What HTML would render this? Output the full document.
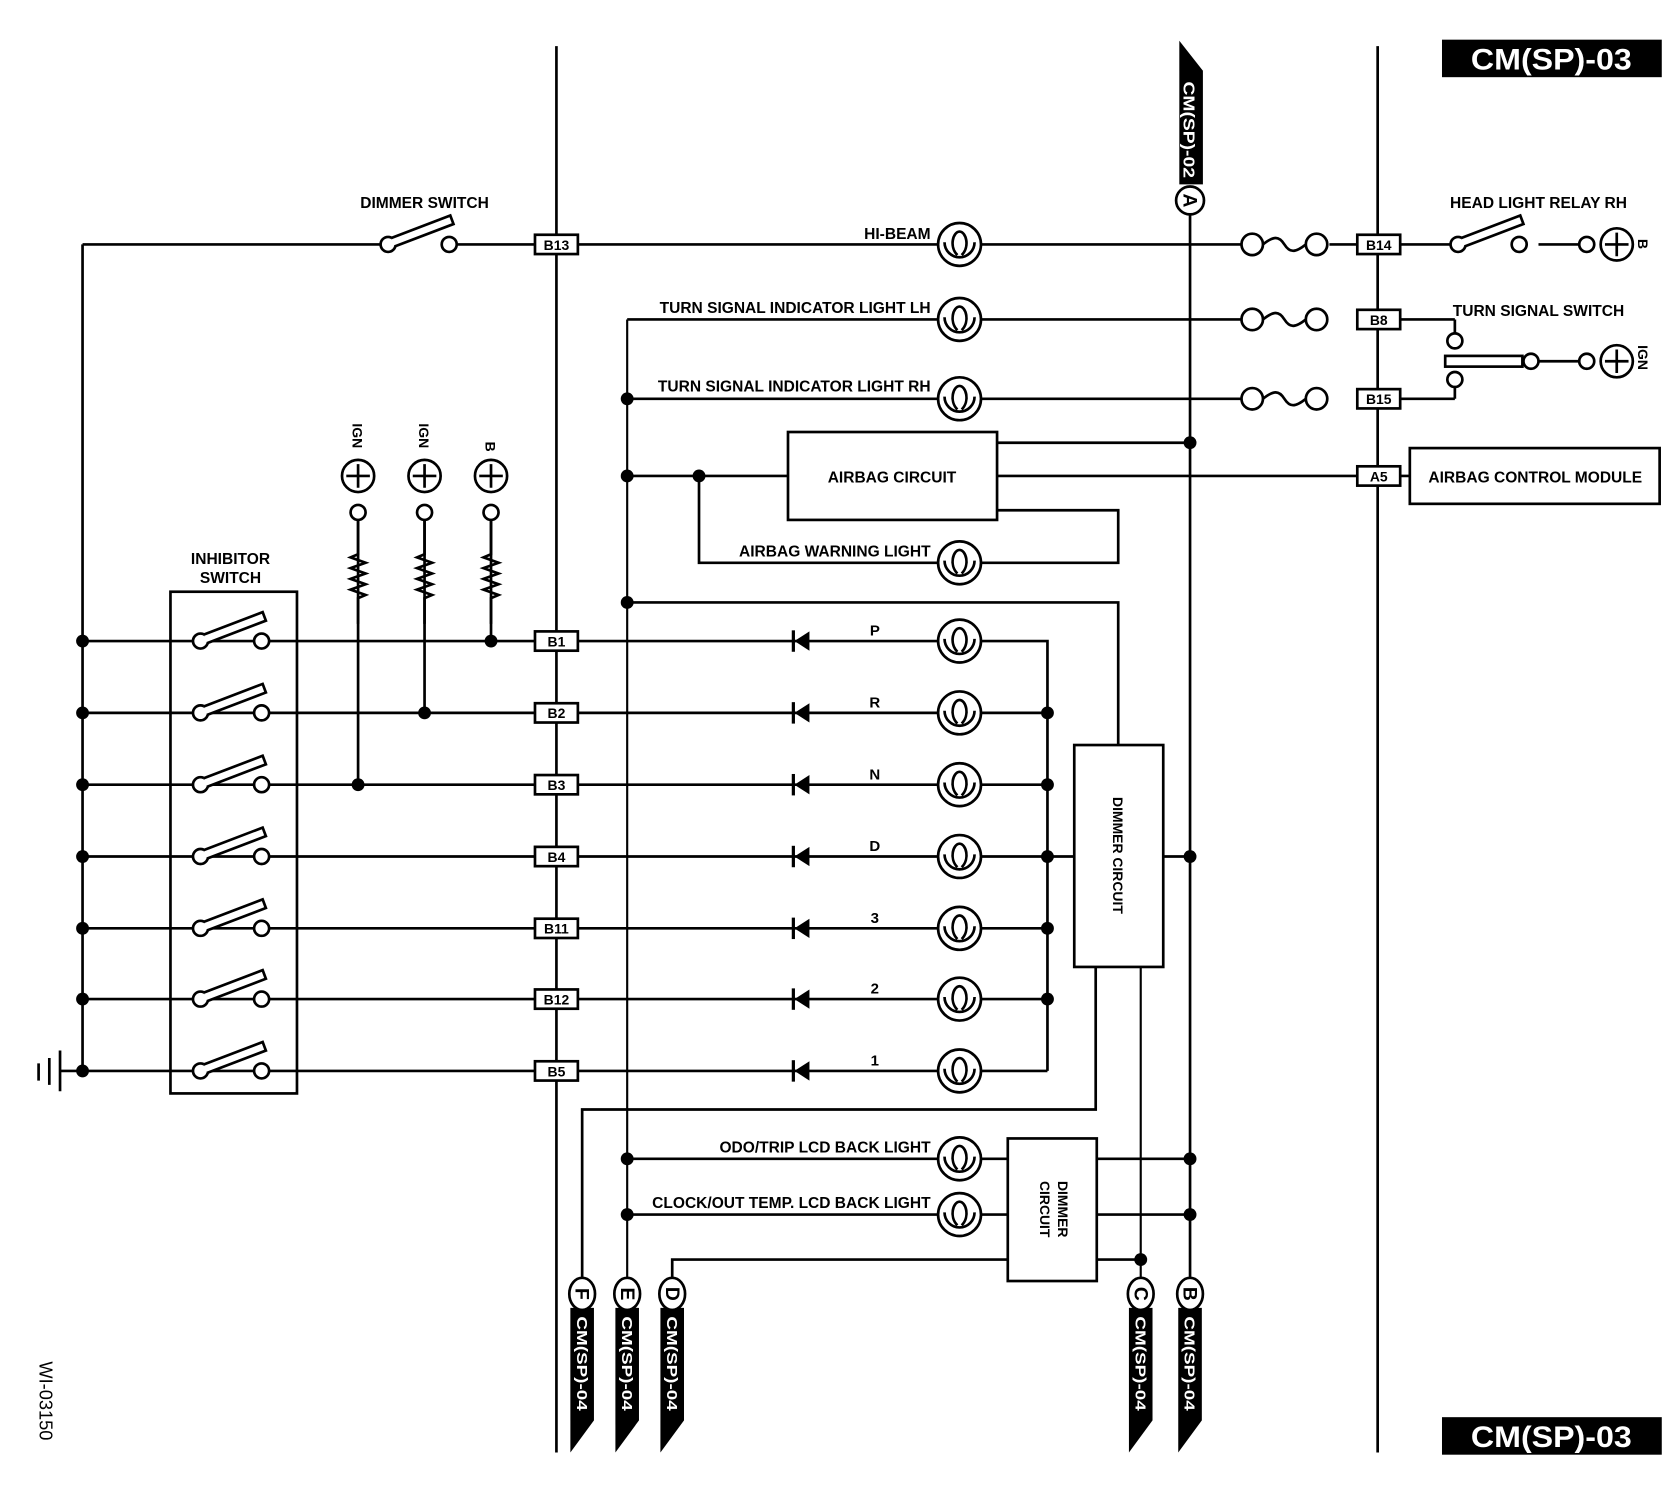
<!DOCTYPE html>
<html><head><meta charset="utf-8"><style>
html,body{margin:0;padding:0;background:#fff;}
svg{display:block;}
text{font-family:"Liberation Sans",sans-serif;font-weight:bold;fill:#000;}
</style></head><body>
<svg width="1680" height="1504" viewBox="0 0 1567 1403" preserveAspectRatio="none" xmlns="http://www.w3.org/2000/svg">
<defs>
<g id="lamp"><circle cx="0" cy="0" r="20" fill="#fff" stroke="#000" stroke-width="2.5"/><path d="M-14,-2 A14,14 0 0 0 14,-2" fill="none" stroke="#000" stroke-width="2.5"/><path d="M-2,10 C-10,2 -6,-12 0,-12 C6,-12 10,2 2,10" fill="none" stroke="#000" stroke-width="2.5"/></g>
<g id="fuse"><circle cx="-30" cy="0" r="10" fill="#fff" stroke="#000" stroke-width="2.5"/><circle cx="30" cy="0" r="10" fill="#fff" stroke="#000" stroke-width="2.5"/><path d="M-20,0 C-10,-8 -5,-8 0,0 C5,8 10,8 20,0" fill="none" stroke="#000" stroke-width="2.5"/></g>
<g id="sw"><circle cx="0" cy="0" r="7" fill="#fff" stroke="#000" stroke-width="2.5"/><circle cx="57" cy="0" r="7" fill="#fff" stroke="#000" stroke-width="2.5"/><path d="M3,-6 L58,-27 L61,-19 L6,2" fill="#fff" stroke="#000" stroke-width="2.5"/></g>
<g id="plus"><circle cx="0" cy="0" r="15" fill="#fff" stroke="#000" stroke-width="2.5"/><path d="M-11,0 H11 M0,-11 V11" stroke="#000" stroke-width="2.5"/></g>
<g id="diode"><path d="M10,-9 L-4,0 L10,9 Z" fill="#000"/><path d="M-5,-10 V10" stroke="#000" stroke-width="3"/></g>
<g id="res"><path d="M0,0 V32 l-7,3 l14,5 l-14,5 l14,5 l-14,5 l14,5 l-14,5 l14,5 l-7,3 V97" fill="none" stroke="#000" stroke-width="2.5"/></g>
<g id="flag"><path d="M-11,0 H11 V105 L-11,135 Z" fill="#000"/></g>
</defs>

<g stroke="#000" stroke-width="2.5" fill="none">
<path d="M519,43 V1355 M1285,43 V1355"/>
<path d="M585,298 V1195" stroke-width="2"/>
<path d="M1110,200 V1195"/>
<path d="M1064,902 V1195" stroke-width="2"/>
<path d="M77,228 V999"/>
<path d="M77,228 H355 M427,228 H1160 M1240,228 H1352 M1435,228 H1473"/>
<path d="M1357,372 V361 M1357,298 V311 M1306,298 H1357 M1306,372 H1357 M1434,337 H1473"/>
<path d="M585,298 H1160 M585,372 H1160"/>
<rect x="735" y="403" width="195" height="82"/>
<rect x="1315" y="418" width="233" height="52"/>
<path d="M930,413 H1110 M585,444 H735 M930,444 H1315 M930,476 H1043 V525 H915 M652,444 V525 H875"/>
<path d="M585,562 H1043 V695"/>
<rect x="1002" y="695" width="83" height="207"/>
<rect x="940" y="1062" width="83" height="133"/>
<rect x="159" y="552" width="118" height="468"/>
<path d="M77,598 H977 V999 M77,665 H977 M77,732 H977 M77,799 H1002 M77,866 H977 M77,932 H977 M77,999 H977"/>
<path d="M1085,799 H1110"/>
<path d="M334,485 V732 M396,485 V665 M458,485 V598"/>
<path d="M1022,902 V1035 H543 V1195"/>
<path d="M585,1081 H940 M585,1133 H940 M1023,1081 H1110 M1023,1133 H1110 M627,1195 V1175 H940 M1023,1175 H1064"/>
<path d="M56,980 V1018 M46,987 V1012 M36,992 V1008 M56,999 H77"/>
<rect x="1348" y="332" width="72" height="10" fill="#fff"/>
</g>

<use href="#res" x="334" y="485"/><use href="#res" x="396" y="485"/><use href="#res" x="458" y="485"/>
<g fill="#fff" stroke="#000" stroke-width="2.5">
<circle cx="334" cy="478" r="7"/><circle cx="396" cy="478" r="7"/><circle cx="458" cy="478" r="7"/>
<circle cx="1357" cy="318" r="7"/><circle cx="1357" cy="354" r="7"/><circle cx="1428" cy="337" r="7"/>
<circle cx="1480" cy="228" r="7"/><circle cx="1480" cy="337" r="7"/>
</g>
<use href="#plus" x="334" y="444"/><use href="#plus" x="396" y="444"/><use href="#plus" x="458" y="444"/>
<use href="#plus" x="1508" y="228"/><use href="#plus" x="1508" y="337"/>
<g transform="translate(362,228)"><use href="#sw"/></g>
<g transform="translate(1360,228)"><use href="#sw"/></g>
<use href="#sw" x="187" y="598"/><use href="#sw" x="187" y="665"/><use href="#sw" x="187" y="732"/><use href="#sw" x="187" y="799"/><use href="#sw" x="187" y="866"/><use href="#sw" x="187" y="932"/><use href="#sw" x="187" y="999"/>
<use href="#fuse" x="1198" y="228"/><use href="#fuse" x="1198" y="298"/><use href="#fuse" x="1198" y="372"/>
<use href="#lamp" x="895" y="228"/><use href="#lamp" x="895" y="298"/><use href="#lamp" x="895" y="372"/><use href="#lamp" x="895" y="525"/>
<use href="#lamp" x="895" y="598"/><use href="#lamp" x="895" y="665"/><use href="#lamp" x="895" y="732"/><use href="#lamp" x="895" y="799"/><use href="#lamp" x="895" y="866"/><use href="#lamp" x="895" y="932"/><use href="#lamp" x="895" y="999"/>
<use href="#lamp" x="895" y="1081"/><use href="#lamp" x="895" y="1133"/>
<use href="#diode" x="745" y="598"/><use href="#diode" x="745" y="665"/><use href="#diode" x="745" y="732"/><use href="#diode" x="745" y="799"/><use href="#diode" x="745" y="866"/><use href="#diode" x="745" y="932"/><use href="#diode" x="745" y="999"/>

<g fill="#000">
<circle cx="585" cy="372" r="6"/><circle cx="1110" cy="413" r="6"/><circle cx="585" cy="444" r="6"/><circle cx="652" cy="444" r="6"/><circle cx="585" cy="562" r="6"/>
<circle cx="77" cy="598" r="6"/><circle cx="77" cy="665" r="6"/><circle cx="77" cy="732" r="6"/><circle cx="77" cy="799" r="6"/><circle cx="77" cy="866" r="6"/><circle cx="77" cy="932" r="6"/><circle cx="77" cy="999" r="6"/>
<circle cx="458" cy="598" r="6"/><circle cx="396" cy="665" r="6"/><circle cx="334" cy="732" r="6"/>
<circle cx="977" cy="665" r="6"/><circle cx="977" cy="732" r="6"/><circle cx="977" cy="799" r="6"/><circle cx="977" cy="866" r="6"/><circle cx="977" cy="932" r="6"/>
<circle cx="1110" cy="799" r="6"/><circle cx="585" cy="1081" r="6"/><circle cx="585" cy="1133" r="6"/><circle cx="1110" cy="1081" r="6"/><circle cx="1110" cy="1133" r="6"/><circle cx="1064" cy="1175" r="6"/>
</g>

<g fill="#fff" stroke="#000" stroke-width="2.5">
<rect x="499" y="219" width="40" height="18"/><rect x="1266" y="219" width="40" height="18"/><rect x="1266" y="289" width="40" height="18"/><rect x="1266" y="363" width="40" height="18"/><rect x="1266" y="435" width="40" height="18"/>
<rect x="499" y="589" width="40" height="18"/><rect x="499" y="656" width="40" height="18"/><rect x="499" y="723" width="40" height="18"/><rect x="499" y="790" width="40" height="18"/><rect x="499" y="857" width="40" height="18"/><rect x="499" y="923" width="40" height="18"/><rect x="499" y="990" width="40" height="18"/>
</g>
<g font-size="13" text-anchor="middle">
<text x="519" y="233">B13</text><text x="1286" y="233">B14</text><text x="1286" y="303">B8</text><text x="1286" y="377">B15</text><text x="1286" y="449">A5</text>
<text x="519" y="603">B1</text><text x="519" y="670">B2</text><text x="519" y="737">B3</text><text x="519" y="804">B4</text><text x="519" y="871">B11</text><text x="519" y="937">B12</text><text x="519" y="1004">B5</text>
</g>

<g font-size="14.5">
<text x="396" y="194" text-anchor="middle">DIMMER SWITCH</text>
<text x="868" y="223" text-anchor="end">HI-BEAM</text>
<text x="868" y="292" text-anchor="end">TURN SIGNAL INDICATOR LIGHT LH</text>
<text x="868" y="365" text-anchor="end">TURN SIGNAL INDICATOR LIGHT RH</text>
<text x="868" y="519" text-anchor="end">AIRBAG WARNING LIGHT</text>
<text x="832" y="450" text-anchor="middle">AIRBAG CIRCUIT</text>
<text x="1432" y="450" text-anchor="middle">AIRBAG CONTROL MODULE</text>
<text x="1435" y="194" text-anchor="middle">HEAD LIGHT RELAY RH</text>
<text x="1435" y="295" text-anchor="middle">TURN SIGNAL SWITCH</text>
<text x="215" y="526" text-anchor="middle">INHIBITOR</text>
<text x="215" y="544" text-anchor="middle">SWITCH</text>
<text x="868" y="1075" text-anchor="end">ODO/TRIP LCD BACK LIGHT</text>
<text x="868" y="1127" text-anchor="end">CLOCK/OUT TEMP. LCD BACK LIGHT</text>
</g>
<g font-size="14" text-anchor="middle">
<text x="816" y="593">P</text><text x="816" y="660">R</text><text x="816" y="727">N</text><text x="816" y="794">D</text><text x="816" y="861">3</text><text x="816" y="927">2</text><text x="816" y="994">1</text>
</g>
<g font-size="13">
<text transform="translate(329,395) rotate(90)">IGN</text>
<text transform="translate(391,395) rotate(90)">IGN</text>
<text transform="translate(453,412) rotate(90)">B</text>
<text transform="translate(1528,223) rotate(90)">B</text>
<text transform="translate(1528,322) rotate(90)">IGN</text>
<text transform="translate(1038,798) rotate(90)" text-anchor="middle">DIMMER CIRCUIT</text>
<text transform="translate(987,1128) rotate(90)" text-anchor="middle">DIMMER</text>
<text transform="translate(970,1128) rotate(90)" text-anchor="middle">CIRCUIT</text>
</g>
<text transform="translate(37,1270) rotate(90)" font-size="17" style="font-weight:normal">WI-03150</text>

<rect x="1345" y="37" width="205" height="35" fill="#000"/>
<text x="1447" y="65" font-size="28" text-anchor="middle" style="fill:#fff" textLength="150" lengthAdjust="spacingAndGlyphs">CM(SP)-03</text>
<rect x="1345" y="1322" width="205" height="35" fill="#000"/>
<text x="1447" y="1350" font-size="28" text-anchor="middle" style="fill:#fff" textLength="150" lengthAdjust="spacingAndGlyphs">CM(SP)-03</text>

<path d="M1100,38 L1122,66 V172 H1100 Z" fill="#000"/>
<text transform="translate(1104,76) rotate(90)" font-size="15" style="fill:#fff" textLength="90" lengthAdjust="spacingAndGlyphs">CM(SP)-02</text>
<circle cx="1110" cy="187" r="13" fill="#fff" stroke="#000" stroke-width="2.5"/>
<text transform="translate(1104,187) rotate(90)" font-size="18" text-anchor="middle">A</text>

<g>
<use href="#flag" x="543" y="1220"/><use href="#flag" x="585" y="1220"/><use href="#flag" x="627" y="1220"/><use href="#flag" x="1064" y="1220"/><use href="#flag" x="1110" y="1220"/>
<g fill="#fff" stroke="#000" stroke-width="2.5">
<ellipse cx="543" cy="1207" rx="12" ry="15"/><ellipse cx="585" cy="1207" rx="12" ry="15"/><ellipse cx="627" cy="1207" rx="12" ry="15"/><ellipse cx="1064" cy="1207" rx="12" ry="15"/><ellipse cx="1110" cy="1207" rx="12" ry="15"/>
</g>
<g font-size="18" text-anchor="middle">
<text transform="translate(537,1207) rotate(90)">F</text><text transform="translate(579,1207) rotate(90)">E</text><text transform="translate(621,1207) rotate(90)">D</text><text transform="translate(1058,1207) rotate(90)">C</text><text transform="translate(1104,1207) rotate(90)">B</text>
</g>
<g font-size="14">
<text transform="translate(538,1228) rotate(90)" style="fill:#fff" textLength="88" lengthAdjust="spacingAndGlyphs">CM(SP)-04</text>
<text transform="translate(580,1228) rotate(90)" style="fill:#fff" textLength="88" lengthAdjust="spacingAndGlyphs">CM(SP)-04</text>
<text transform="translate(622,1228) rotate(90)" style="fill:#fff" textLength="88" lengthAdjust="spacingAndGlyphs">CM(SP)-04</text>
<text transform="translate(1059,1228) rotate(90)" style="fill:#fff" textLength="88" lengthAdjust="spacingAndGlyphs">CM(SP)-04</text>
<text transform="translate(1105,1228) rotate(90)" style="fill:#fff" textLength="88" lengthAdjust="spacingAndGlyphs">CM(SP)-04</text>
</g>
</g>
</svg>
</body></html>
